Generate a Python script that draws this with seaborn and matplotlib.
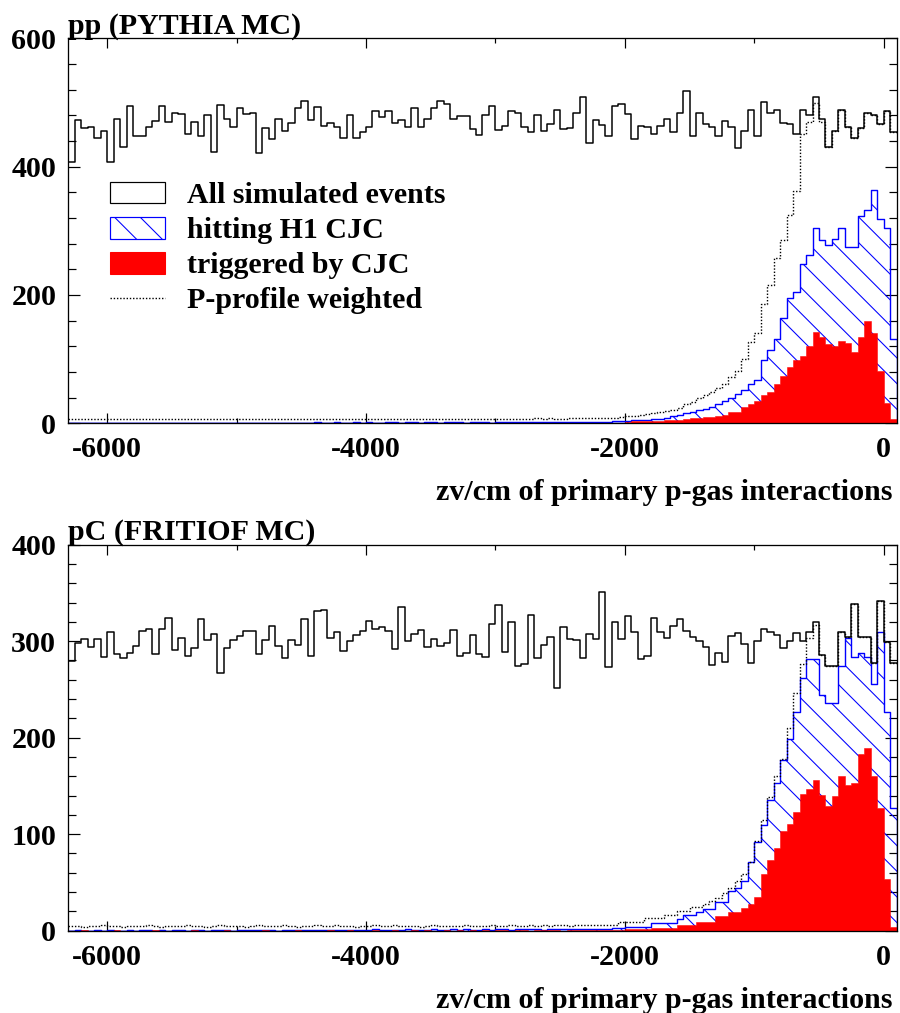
import numpy as np
import matplotlib
matplotlib.use("Agg")
import matplotlib.pyplot as plt
import seaborn as sns
from matplotlib.patches import Patch
from matplotlib.lines import Line2D
from matplotlib.ticker import MultipleLocator

# zv binning in cm: 128 bins of 50 cm
Z_MIN, Z_MAX, BIN_W = -6300, 100, 50
edges = np.arange(Z_MIN, Z_MAX + BIN_W, BIN_W)
centers = 0.5 * (edges[:-1] + edges[1:])

# ---------------- pp (PYTHIA MC) ----------------
pp_all = [408, 473, 460, 461, 444, 455, 408, 475, 431, 495,
          447, 447, 461, 471, 495, 469, 484, 482, 451, 470,
          447, 480, 423, 496, 475, 461, 491, 482, 484, 422,
          460, 443, 475, 456, 468, 492, 503, 473, 493, 464,
          468, 462, 445, 480, 445, 454, 461, 487, 478, 487,
          468, 472, 461, 491, 461, 474, 492, 503, 497, 475,
          479, 479, 459, 449, 481, 495, 457, 464, 487, 484,
          461, 454, 480, 455, 467, 489, 458, 460, 483, 509,
          437, 472, 465, 447, 495, 497, 482, 443, 464, 461,
          451, 464, 474, 454, 483, 518, 448, 483, 467, 462,
          447, 471, 462, 429, 455, 488, 447, 501, 483, 489,
          468, 466, 451, 489, 480, 508, 475, 431, 456, 489,
          462, 445, 460, 484, 481, 467, 487, 454]

pp_hit = [0, 0, 0, 1, 0, 0, 0, 1, 0, 0,
          0, 1, 0, 0, 1, 0, 0, 1, 0, 1,
          0, 0, 1, 0, 1, 0, 1, 0, 0, 1,
          1, 0, 1, 1, 0, 1, 1, 1, 2, 1,
          1, 2, 1, 1, 2, 1, 2, 1, 1, 2,
          2, 1, 2, 2, 1, 2, 2, 1, 2, 2,
          2, 1, 2, 2, 2, 1, 2, 2, 2, 2,
          2, 2, 2, 2, 2, 2, 2, 2, 2, 2,
          2, 2, 2, 2, 3, 3, 4, 5, 5, 5,
          6, 7, 8, 11, 13, 16, 18, 21, 22, 26,
          30, 35, 40, 45, 52, 62, 68, 99, 114, 132,
          164, 195, 205, 249, 262, 305, 285, 278, 287, 304,
          274, 274, 323, 332, 363, 318, 304, 131]

pp_trig = [0, 0, 0, 0, 1, 0, 0, 0, 0, 0,
           1, 0, 0, 0, 0, 0, 1, 0, 0, 0,
           0, 0, 0, 1, 0, 0, 0, 0, 1, 0,
           0, 0, 0, 0, 1, 0, 0, 0, 0, 1,
           0, 0, 1, 0, 0, 0, 1, 0, 0, 1,
           0, 1, 0, 0, 1, 0, 0, 1, 0, 1,
           1, 0, 1, 0, 1, 1, 0, 1, 1, 0,
           1, 1, 1, 0, 1, 1, 1, 1, 1, 1,
           1, 1, 1, 1, 1, 1, 2, 3, 3, 3,
           4, 4, 5, 5, 5, 7, 9, 9, 10, 10,
           12, 13, 17, 18, 26, 30, 35, 44, 49, 62,
           74, 88, 98, 105, 121, 143, 134, 124, 120, 129,
           125, 111, 135, 160, 141, 82, 31, 6]

pp_weighted = [6, 7, 6, 6, 7, 6, 7, 7, 6, 6,
               7, 6, 6, 7, 7, 6, 7, 6, 6, 7,
               7, 6, 7, 6, 6, 7, 6, 7, 7, 6,
               6, 7, 6, 7, 6, 6, 7, 7, 6, 7,
               6, 6, 7, 6, 7, 7, 6, 6, 7, 6,
               7, 7, 6, 6, 7, 6, 7, 6, 6, 7,
               7, 6, 7, 7, 6, 7, 6, 6, 7, 7,
               7, 7, 8, 7, 8, 7, 7, 8, 8, 8,
               8, 8, 8, 8, 9, 10, 12, 12, 13, 15,
               16, 17, 19, 21, 24, 30, 34, 40, 44, 49,
               55, 62, 72, 82, 101, 127, 141, 186, 216, 257,
               285, 325, 362, 451, 469, 499, 470, 431, 456, 489,
               462, 445, 460, 484, 481, 467, 487, 454]

# ---------------- pC (FRITIOF MC) ----------------
pc_all = [279, 298, 302, 294, 302, 284, 310, 287, 283, 288,
          295, 311, 313, 287, 313, 324, 291, 303, 285, 293,
          323, 301, 307, 267, 293, 301, 305, 311, 311, 287,
          301, 316, 295, 283, 301, 296, 323, 285, 331, 332,
          303, 310, 290, 300, 306, 311, 321, 313, 315, 311,
          292, 335, 300, 307, 312, 294, 302, 295, 298, 312,
          285, 288, 306, 287, 284, 318, 337, 289, 320, 274,
          276, 327, 283, 296, 304, 251, 315, 302, 301, 283,
          307, 302, 351, 273, 320, 302, 326, 309, 282, 285,
          324, 310, 303, 316, 323, 311, 304, 300, 294, 275,
          288, 278, 305, 308, 297, 277, 300, 313, 310, 306,
          293, 300, 308, 300, 310, 320, 286, 274, 274, 310,
          304, 339, 304, 304, 277, 342, 299, 277]

pc_hit = [0, 1, 0, 0, 1, 0, 1, 0, 0, 1,
          0, 1, 1, 0, 1, 0, 1, 1, 0, 1,
          1, 0, 1, 1, 1, 0, 1, 1, 1, 1,
          1, 1, 0, 1, 1, 1, 1, 1, 1, 1,
          1, 1, 1, 1, 1, 1, 1, 2, 1, 1,
          1, 1, 2, 1, 1, 1, 2, 1, 1, 2,
          1, 2, 1, 1, 2, 1, 2, 2, 1, 2,
          2, 2, 2, 1, 2, 2, 2, 2, 2, 2,
          2, 2, 2, 2, 3, 3, 4, 4, 4, 4,
          8, 8, 8, 8, 12, 16, 16, 19, 22, 22,
          30, 30, 41, 44, 51, 71, 92, 110, 135, 153,
          177, 199, 227, 262, 282, 282, 244, 236, 236, 274,
          303, 284, 288, 284, 256, 310, 227, 127]

pc_trig = [0, 0, 1, 0, 0, 0, 0, 1, 0, 0,
           0, 0, 0, 1, 0, 0, 0, 0, 0, 1,
           0, 0, 0, 0, 1, 0, 0, 0, 0, 0,
           1, 0, 0, 0, 0, 1, 0, 0, 0, 0,
           1, 0, 0, 1, 0, 0, 0, 1, 0, 0,
           1, 0, 0, 1, 0, 1, 0, 0, 1, 0,
           1, 0, 1, 0, 1, 0, 1, 1, 0, 1,
           1, 0, 1, 1, 1, 1, 0, 1, 1, 1,
           1, 1, 1, 1, 1, 1, 2, 2, 2, 2,
           3, 3, 3, 3, 6, 6, 6, 9, 9, 9,
           15, 15, 19, 19, 23, 28, 35, 59, 73, 86,
           103, 111, 123, 142, 147, 156, 141, 129, 140, 160,
           151, 153, 183, 189, 160, 127, 54, 4]

pc_weighted = [5, 5, 4, 5, 5, 6, 5, 5, 4, 5,
               5, 5, 6, 5, 4, 5, 5, 5, 6, 5,
               5, 4, 5, 6, 5, 5, 5, 4, 5, 6,
               5, 5, 5, 6, 5, 4, 5, 5, 6, 5,
               5, 6, 5, 5, 4, 5, 5, 6, 5, 5,
               6, 5, 5, 5, 4, 5, 6, 5, 5, 5,
               5, 6, 5, 5, 5, 6, 5, 5, 6, 5,
               5, 6, 5, 6, 5, 6, 6, 5, 6, 6,
               6, 6, 6, 6, 6, 9, 9, 9, 9, 13,
               13, 13, 16, 16, 20, 20, 25, 25, 28, 31,
               34, 39, 44, 51, 59, 71, 93, 115, 138, 160,
               178, 210, 246, 276, 303, 317, 286, 274, 274, 310,
               304, 339, 304, 304, 277, 342, 299, 277]

panels = [
    dict(title="pp (PYTHIA MC)", all=pp_all, hit=pp_hit, trig=pp_trig,
         weighted=pp_weighted, ymax=600, ymajor=200, yminor=40, legend=True),
    dict(title="pC (FRITIOF MC)", all=pc_all, hit=pc_hit, trig=pc_trig,
         weighted=pc_weighted, ymax=400, ymajor=100, yminor=20, legend=False),
]

DPI = 77
PX = 72.0 / DPI  # points per pixel

sns.set_style("ticks")
plt.rcParams["font.family"] = ["Liberation Serif", "DejaVu Serif"]
plt.rcParams["font.weight"] = "bold"
plt.rcParams["axes.unicode_minus"] = False
plt.rcParams["hatch.color"] = "blue"
plt.rcParams["hatch.linewidth"] = 1.0
for key in ("text.color", "axes.labelcolor", "xtick.color", "ytick.color",
            "axes.edgecolor"):
    plt.rcParams[key] = "black"

FS = 30 * PX
DOTS = (0, (1.0, 1.3))
hist_kw = dict(binwidth=BIN_W, binrange=(Z_MIN, Z_MAX), element="step")

fig = plt.figure(figsize=(900 / DPI, 1013 / DPI), dpi=DPI)
fig.patch.set_facecolor("white")
ax_top = fig.add_axes([0.0759, 0.5821, 0.9204, 0.3801])
ax_bot = fig.add_axes([0.0759, 0.0813, 0.9204, 0.3810])

for ax, p in zip([ax_top, ax_bot], panels):
    # events reaching the CJC: hatched outline
    sns.histplot(x=centers, weights=p["hit"], fill=True, color="blue",
                 alpha=1, ax=ax, **hist_kw)
    hit_poly = ax.collections[-1]
    hit_poly.set_facecolor("none")
    hit_poly.set_edgecolor("blue")
    hit_poly.set_hatch("\\")
    hit_poly.set_linewidth(1.4 * PX)

    # triggered events: solid red
    sns.histplot(x=centers, weights=p["trig"], fill=True, color="red",
                 alpha=1, ax=ax, **hist_kw)
    ax.collections[-1].set_facecolor("red")
    ax.collections[-1].set_edgecolor("red")
    ax.collections[-1].set_linewidth(0.5 * PX)

    # all simulated events
    sns.histplot(x=centers, weights=p["all"], fill=False, color="black",
                 linewidth=1.5 * PX, ax=ax, **hist_kw)

    # pressure-profile weighted
    sns.histplot(x=centers, weights=p["weighted"], fill=False, color="black",
                 linewidth=1.4 * PX, linestyle=DOTS, ax=ax, **hist_kw)

    ax.set_xlim(Z_MIN, Z_MAX)
    ax.set_ylim(0, p["ymax"])
    ax.xaxis.set_major_locator(MultipleLocator(2000))
    ax.xaxis.set_minor_locator(MultipleLocator(1000))
    ax.yaxis.set_major_locator(MultipleLocator(p["ymajor"]))
    ax.yaxis.set_minor_locator(MultipleLocator(p["yminor"]))
    ax.tick_params(which="both", direction="in", top=True, right=True,
                   width=1.2 * PX, labelsize=FS, colors="black")
    ax.tick_params(axis="x", which="major", length=10 * PX, pad=13 * PX)
    ax.tick_params(axis="x", which="minor", length=5 * PX)
    ax.tick_params(axis="y", which="major", length=12 * PX, pad=12 * PX)
    ax.tick_params(axis="y", which="minor", length=8 * PX)
    for s in ax.spines.values():
        s.set_linewidth(1.3 * PX)
        s.set_color("black")
    ax.set_ylabel("")
    ax.set_xlabel("zv/cm of primary p-gas interactions", fontsize=FS,
                  fontweight="bold", color="black")
    ax.xaxis.label.set_ha("right")
    ax.xaxis.label.set_va("center")
    ax.xaxis.set_label_coords(0.9955, -0.18)
    ax.text(0.0, 1.012, p["title"], transform=ax.transAxes, ha="left",
            va="baseline", fontsize=FS, fontweight="bold", color="black")

    if p["legend"]:
        handles = [
            Patch(facecolor="none", edgecolor="black", linewidth=1.2 * PX),
            Patch(facecolor="none", edgecolor="blue", hatch="\\",
                  linewidth=1.2 * PX),
            Patch(facecolor="red", edgecolor="red"),
            Line2D([], [], color="black", linewidth=1.4 * PX, linestyle=DOTS),
        ]
        labels = ["All simulated events", "hitting H1 CJC",
                  "triggered by CJC", "P-profile weighted"]
        leg = ax.legend(handles, labels, loc="upper left",
                        bbox_to_anchor=(0.050, 0.627), frameon=False,
                        fontsize=FS, handlelength=1.83, handleheight=0.73,
                        handletextpad=0.73, labelspacing=0.26, borderpad=0,
                        borderaxespad=0)
        for t in leg.get_texts():
            t.set_color("black")

fig.savefig("out.png", dpi=DPI, facecolor="white")
